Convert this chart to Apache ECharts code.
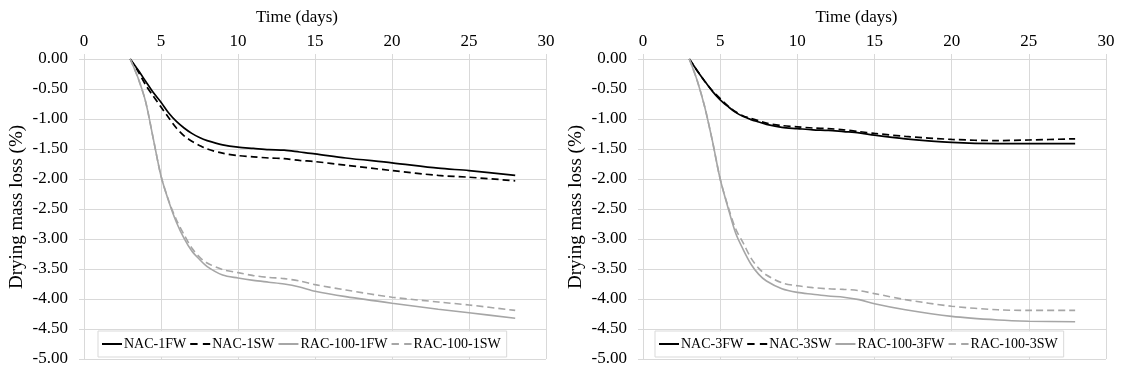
<!DOCTYPE html>
<html>
<head>
<meta charset="utf-8">
<script src="https://cdn.jsdelivr.net/npm/echarts@6/dist/echarts.min.js"></script>
<style>
html,body{margin:0;padding:0;background:#fff;}
#chart{width:1122px;height:374px;}
</style>
</head>
<body>
<div id="chart"></div>
<script>
// ---- data ----
const days = [3,3.5,4,4.5,5,5.5,6,6.5,7,7.5,8,9,10,11,12,13,14,15,17,20,23,25,28];

const nac1FW = [0,-0.18,-0.37,-0.56,-0.72,-0.90,-1.04,-1.15,-1.24,-1.31,-1.36,-1.43,-1.47,-1.49,-1.51,-1.52,-1.55,-1.58,-1.65,-1.73,-1.82,-1.86,-1.94];
const nac1SW = [0,-0.20,-0.43,-0.62,-0.80,-0.98,-1.15,-1.28,-1.37,-1.44,-1.50,-1.57,-1.61,-1.63,-1.65,-1.66,-1.69,-1.71,-1.77,-1.86,-1.94,-1.97,-2.03];
const rac1FW = [0,-0.31,-0.71,-1.33,-1.95,-2.37,-2.72,-2.99,-3.20,-3.34,-3.46,-3.60,-3.65,-3.69,-3.72,-3.75,-3.80,-3.87,-3.96,-4.07,-4.17,-4.23,-4.32];
const rac1SW = [0,-0.31,-0.71,-1.33,-1.95,-2.36,-2.68,-2.93,-3.15,-3.30,-3.40,-3.51,-3.56,-3.61,-3.64,-3.66,-3.70,-3.76,-3.85,-3.97,-4.05,-4.10,-4.19];

const nac3FW = [0,-0.19,-0.37,-0.54,-0.68,-0.79,-0.89,-0.96,-1.01,-1.05,-1.09,-1.14,-1.16,-1.18,-1.19,-1.21,-1.23,-1.27,-1.33,-1.39,-1.41,-1.41,-1.41];
const nac3SW = [0,-0.19,-0.37,-0.53,-0.66,-0.78,-0.88,-0.95,-0.99,-1.03,-1.07,-1.11,-1.13,-1.15,-1.16,-1.18,-1.21,-1.24,-1.29,-1.34,-1.36,-1.35,-1.33];
const rac3FW = [0,-0.35,-0.80,-1.37,-2.00,-2.47,-2.90,-3.18,-3.42,-3.59,-3.70,-3.83,-3.89,-3.92,-3.95,-3.97,-4.01,-4.08,-4.18,-4.29,-4.35,-4.37,-4.38];
const rac3SW = [0,-0.35,-0.80,-1.37,-2.00,-2.45,-2.83,-3.07,-3.32,-3.49,-3.60,-3.73,-3.78,-3.81,-3.83,-3.84,-3.86,-3.91,-4.01,-4.12,-4.18,-4.19,-4.19];

const namesLeft = ['NAC-1FW','NAC-1SW','RAC-100-1FW','RAC-100-1SW'];
const namesRight = ['NAC-3FW','NAC-3SW','RAC-100-3FW','RAC-100-3SW'];
const xTitle = 'Time (days)';
const yTitle = 'Drying mass loss (%)';

// ---- chart ----
const FONT = '"Liberation Serif", "Times New Roman", serif';
const GRID = '#d9d9d9';
const BLACK = '#000000';
const GRAY = '#a6a6a6';
const ICON_SOLID = 'path://M0,0H20V2H0Z';
const ICON_DASH = 'path://M0,0H7V2H0Z M12,0H19V2H12Z';

function pairs(vals){ return days.map((d,i)=>[d, vals[i]]); }

function xAxisDef(gi){
  return {
    type:'value', gridIndex:gi, position:'top', min:0, max:30, interval:5,
    name:xTitle, nameLocation:'middle', nameGap:33,
    nameTextStyle:{fontFamily:FONT, fontSize:17, color:'#000', padding:[0,36,0,0]},
    axisLine:{show:true, lineStyle:{color:GRID, width:1}},
    axisTick:{show:true, length:5, lineStyle:{color:GRID}},
    axisLabel:{fontFamily:FONT, fontSize:17, color:'#000', margin:9},
    splitLine:{show:true, lineStyle:{color:GRID, width:1}}
  };
}
function yAxisDef(gi){
  return {
    type:'value', gridIndex:gi, min:-5, max:0, interval:0.5,
    name:yTitle, nameLocation:'middle', nameGap:57,
    nameTextStyle:{fontFamily:FONT, fontSize:19, color:'#000', padding:[0,0,0,4]},
    axisLine:{show:true, lineStyle:{color:GRID, width:1}},
    axisTick:{show:true, length:5, lineStyle:{color:GRID}},
    axisLabel:{fontFamily:FONT, fontSize:17, color:'#000', margin:16,
      formatter:v=>{ const s = Math.abs(v).toFixed(2); return (v<0?'-':'')+s; }},
    splitLine:{show:true, lineStyle:{color:GRID, width:1}}
  };
}
function line(name, vals, gi, color, dashed){
  return {
    type:'line', name:name, xAxisIndex:gi, yAxisIndex:gi,
    data:pairs(vals), smooth:0.3,
    symbol:'none', showSymbol:false,
    lineStyle:{color:color, width: color===BLACK?1.7:1.6, type: dashed?[7,4]:'solid'},
    itemStyle:{color:color},
    emphasis:{disabled:true}
  };
}
function legendDef(names, left){
  const cols = [BLACK, BLACK, GRAY, GRAY];
  return {
    data:names.map((n,i)=>({name:n, icon: i%2 ? ICON_DASH : ICON_SOLID,
      itemStyle:{color:cols[i], borderWidth:0}})),
    left:left, top:331, orient:'horizontal',
    itemWidth:20, itemHeight:14, itemGap:4,
    padding:[6,6,6,4],
    backgroundColor:'#ffffff', borderColor:GRID, borderWidth:1,
    itemStyle:{borderWidth:0},
    textStyle:{fontFamily:FONT, fontSize:14, color:'#000', padding:[0,0,0,-3]},
    selectedMode:false
  };
}

const chart = echarts.init(document.getElementById('chart'), null, {renderer:'canvas'});
chart.setOption({
  animation:false,
  backgroundColor:'#ffffff',
  grid:[
    {left:84, top:59, width:462, height:300},
    {left:643, top:59, width:463, height:300}
  ],
  xAxis:[xAxisDef(0), xAxisDef(1)],
  yAxis:[yAxisDef(0), yAxisDef(1)],
  legend:[legendDef(namesLeft, 98), legendDef(namesRight, 655)],
  series:[
    line(namesLeft[0], nac1FW, 0, BLACK, false),
    line(namesLeft[1], nac1SW, 0, BLACK, true),
    line(namesLeft[2], rac1FW, 0, GRAY, false),
    line(namesLeft[3], rac1SW, 0, GRAY, true),
    line(namesRight[0], nac3FW, 1, BLACK, false),
    line(namesRight[1], nac3SW, 1, BLACK, true),
    line(namesRight[2], rac3FW, 1, GRAY, false),
    line(namesRight[3], rac3SW, 1, GRAY, true)
  ]
});
</script>
</body>
</html>
